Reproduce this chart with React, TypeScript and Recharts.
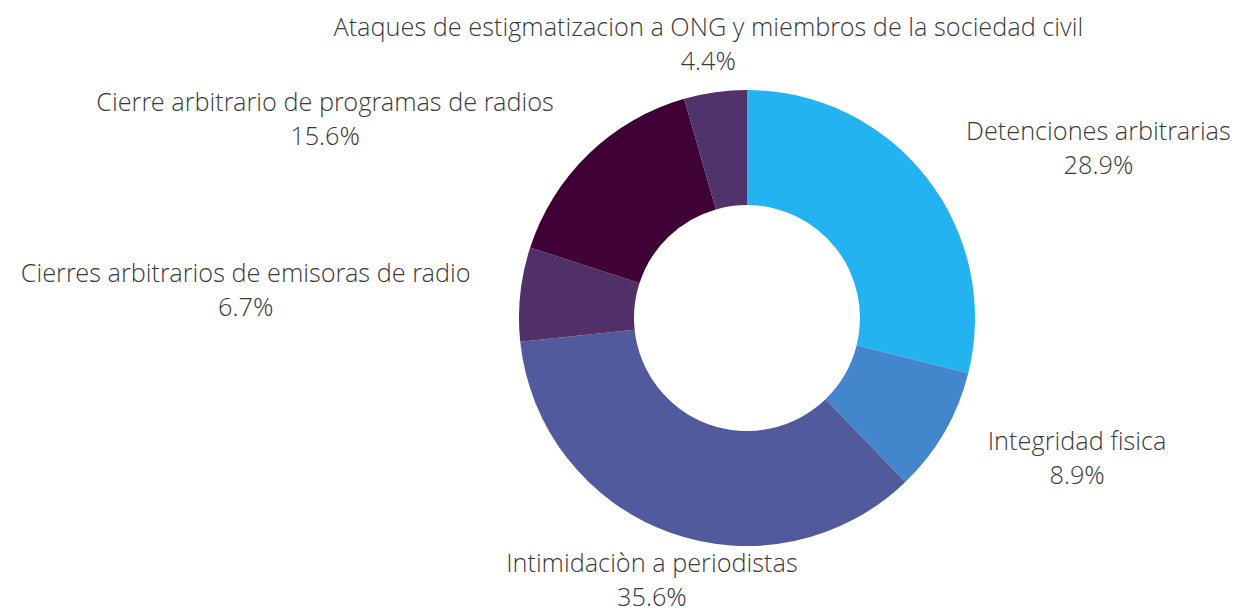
import React from 'react';
import { PieChart, Pie, Cell } from 'recharts';

const categories = [
  'Detenciones arbitrarias',
  'Integridad fisica',
  'Intimidaciòn a periodistas',
  'Cierres arbitrarios de emisoras de radio',
  'Cierre arbitrario de programas de radios',
  'Ataques de estigmatizacion a ONG y miembros de la sociedad civil',
];
const counts = [13, 4, 16, 3, 7, 2];
const colors = ['#22b3f0', '#4486cc', '#525a9e', '#51306a', '#3e0035', '#50336a'];

const data = categories.map((name, i) => ({ name, value: counts[i] }));

const FONT = "300 25.3px 'Open Sans Light', 'Open Sans'";
let ctx: CanvasRenderingContext2D | null = null;
function measure(t: string): number {
  if (!ctx) {
    const c = document.createElement('canvas');
    ctx = c.getContext('2d');
  }
  if (!ctx) return t.length * 12;
  ctx.font = FONT;
  return ctx.measureText(t).width;
}

const RAD = Math.PI / 180;

const renderLabel = (props: any) => {
  const { cx, cy, midAngle, outerRadius, name, percent } = props;
  const r = outerRadius + 50;
  const x = cx + r * Math.cos(-midAngle * RAD);
  const y = cy + r * Math.sin(-midAngle * RAD);
  const s = Math.abs(Math.sin(midAngle * RAD));
  const c = Math.cos(midAngle * RAD);
  const pct = (percent * 100).toFixed(1) + '%';
  const w = Math.max(measure(name), measure(pct));
  let centerX = x;
  if (s <= 0.85) centerX = c > 0 ? x + w / 2 : x - w / 2;
  return (
    <g>
      <text x={centerX} y={y - 17} textAnchor="middle" dominantBaseline="central"
        fill="#3a3a3a" style={{ font: FONT }}>{name}</text>
      <text x={centerX} y={y + 17} textAnchor="middle" dominantBaseline="central"
        fill="#3a3a3a" style={{ font: FONT }}>{pct}</text>
    </g>
  );
};

export default function App() {
  return (
    <div>
      <style>{`html,body{overflow:hidden} .recharts-surface{overflow:visible}`}</style>
      <PieChart width={1233} height={604} margin={{ top: 0, right: 0, bottom: 0, left: 0 }}>
        <Pie
          data={data}
          dataKey="value"
          nameKey="name"
          cx={739}
          cy={310}
          innerRadius={113}
          outerRadius={228}
          startAngle={90}
          endAngle={-270}
          stroke="none"
          label={renderLabel}
          labelLine={false}
          isAnimationActive={false}
        >
          {data.map((d, i) => (
            <Cell key={d.name} fill={colors[i]} />
          ))}
        </Pie>
      </PieChart>
    </div>
  );
}
